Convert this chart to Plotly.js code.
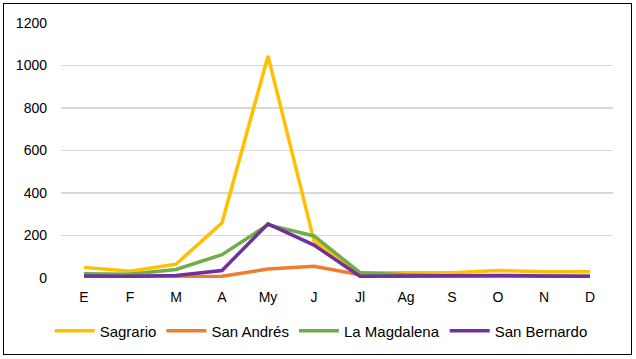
<!DOCTYPE html>
<html>
<head>
<meta charset="utf-8">
<script src="https://cdn.plot.ly/plotly-3.0.1.min.js"></script>
<style>
html,body{margin:0;padding:0;background:#fff;}
#frame{position:absolute;left:3px;top:3px;width:627px;height:350px;border:1.5px solid #000;box-sizing:content-box;}
#chart{position:absolute;left:0;top:0;width:636px;height:359px;}
</style>
</head>
<body>
<div id="chart"></div>
<div id="frame"></div>
<script>
const months = ["E","F","M","A","My","J","Jl","Ag","S","O","N","D"];
const sagrario = [50, 32, 65, 260, 1045, 175, 25, 23, 25, 35, 30, 30];
const sanAndres = [5, 5, 5, 8, 42, 55, 15, 5, 5, 5, 5, 5];
const laMagdalena = [20, 18, 40, 110, 250, 198, 25, 15, 10, 8, 8, 8];
const sanBernardo = [10, 8, 12, 35, 255, 155, 8, 10, 10, 12, 10, 8];
const seriesNames = ["Sagrario","San Andrés","La Magdalena","San Bernardo"];
const colors = ["#FFC000","#ED7D31","#70AD47","#7030A0"];
const allSeries = [sagrario, sanAndres, laMagdalena, sanBernardo];

const traces = allSeries.map((ys, i) => ({
  x: months, y: ys, name: seriesNames[i], type: "scatter", mode: "lines",
  line: {color: colors[i], width: 3.5}
}));

const FONT = "Liberation Sans";
const layout = {
  width: 636, height: 359,
  margin: {l: 61, r: 23, t: 23, b: 81, autoexpand: false},
  paper_bgcolor: "#fff", plot_bgcolor: "#fff",
  font: {family: FONT, size: 15, color: "#000"},
  showlegend: true,
  legend: {orientation: "h", x: 0.505, xanchor: "center", xref: "container",
           y: 0.078, yanchor: "middle", yref: "container",
           font: {size: 15, family: FONT}, itemwidth: 40, tracegroupgap: 0},
  xaxis: {type: "category", showgrid: false, zeroline: false, showline: false,
          ticks: "", tickfont: {size: 14, family: FONT}, range: [-0.5, 11.5], ticklabelstandoff: 9},
  yaxis: {range: [0, 1200], dtick: 200, showgrid: true, gridcolor: "#d9d9d9", gridwidth: 1.5,
          zeroline: false, showline: false, ticks: "", tickfont: {size: 14, family: FONT}, ticklabelstandoff: 13}
};
Plotly.newPlot("chart", traces, layout, {displayModeBar: false, staticPlot: true});
</script>
</body>
</html>
